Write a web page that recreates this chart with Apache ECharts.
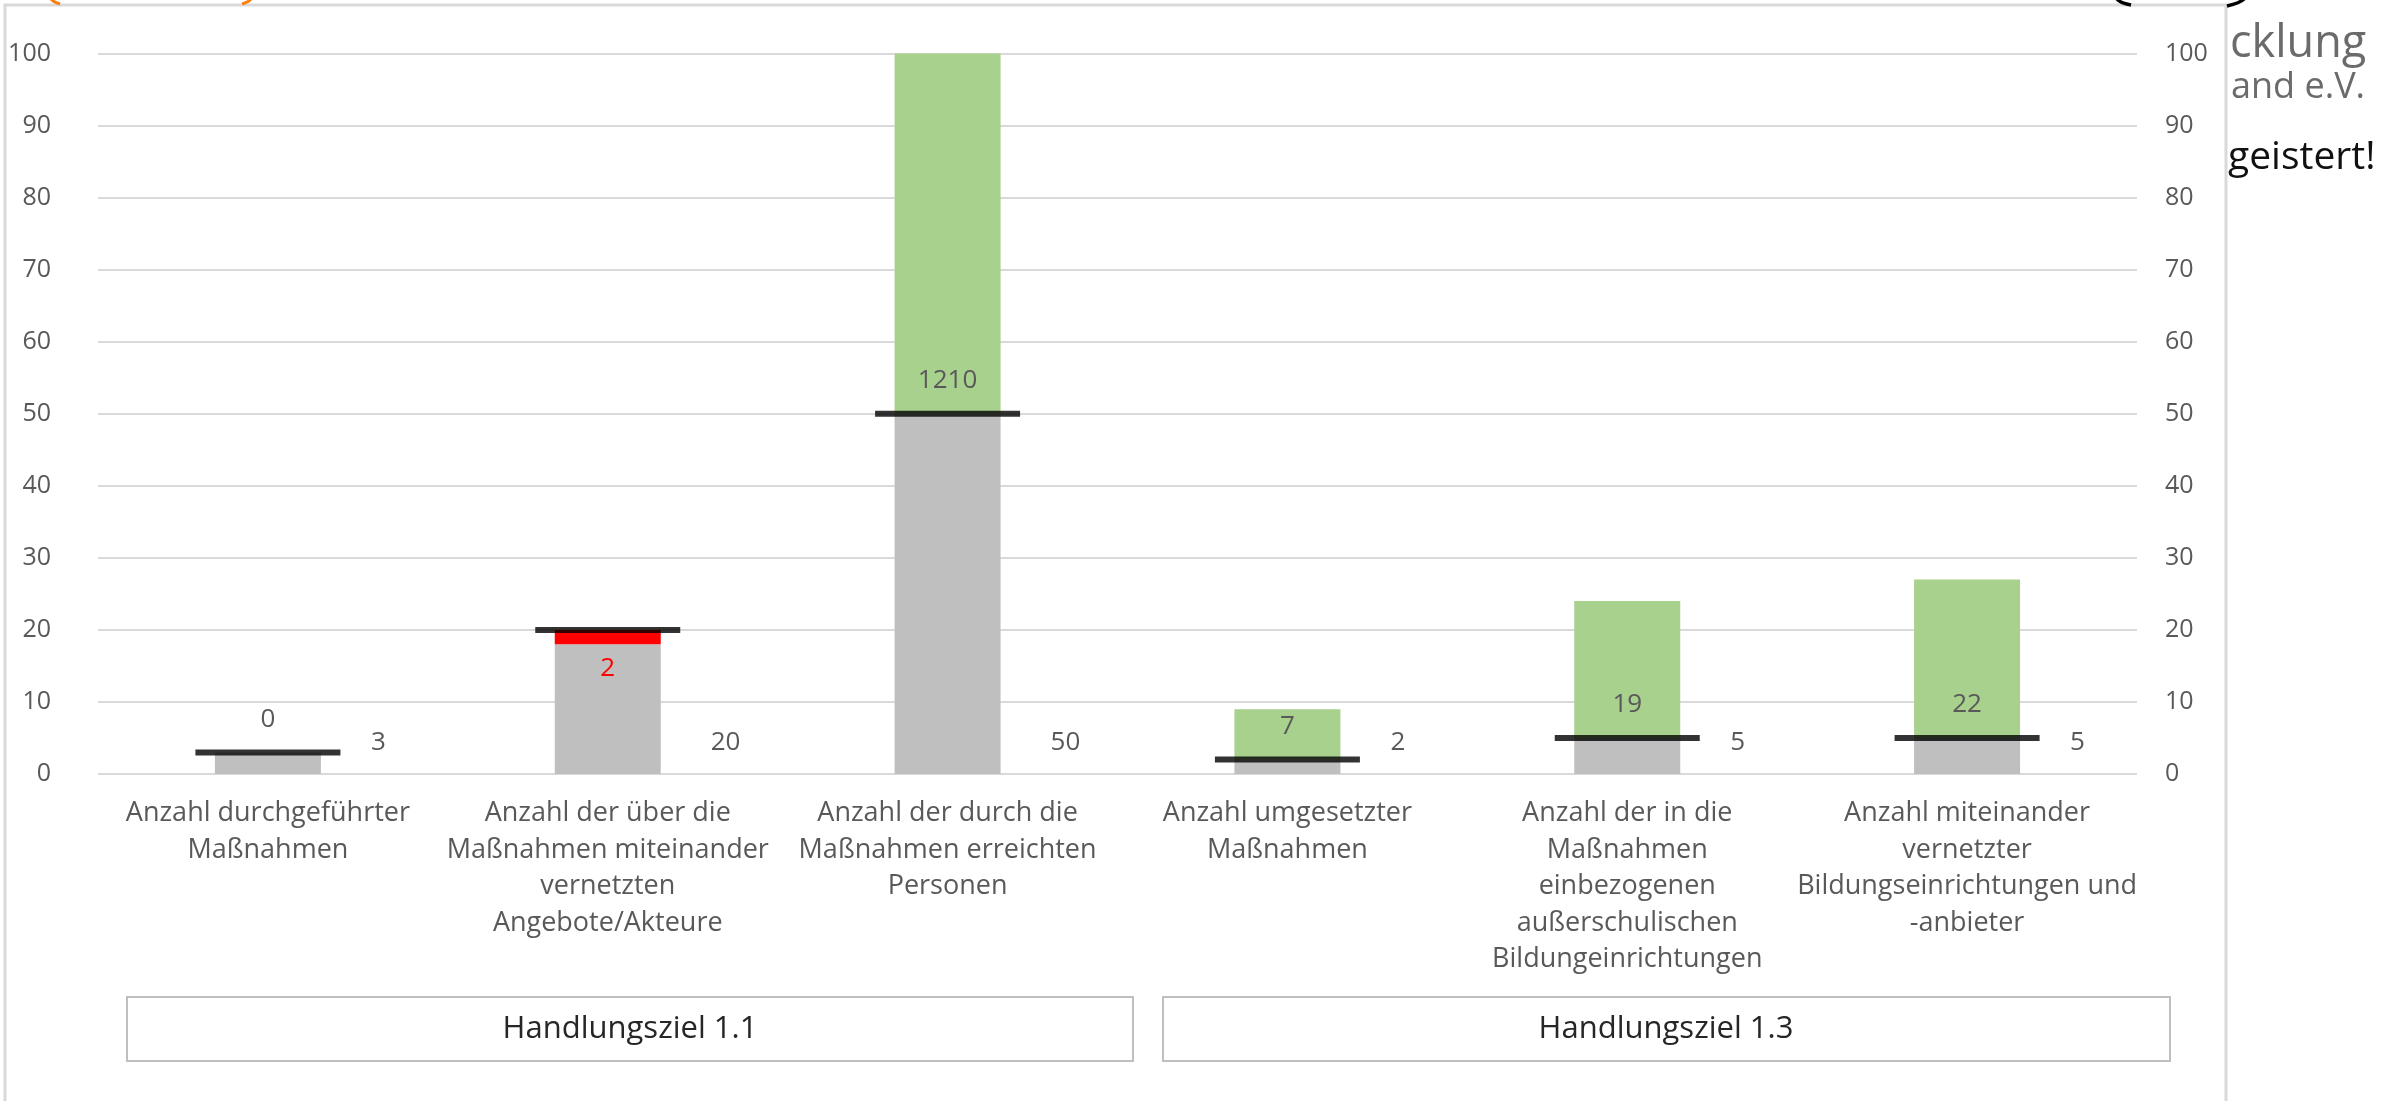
<!DOCTYPE html>
<html>
<head>
<meta charset="utf-8">
<script src="https://cdn.jsdelivr.net/npm/echarts@6/dist/echarts.min.js"></script>
<style>
html,body{margin:0;padding:0;background:#fff;}
#c{width:2394px;height:1101px;}
</style>
</head>
<body>
<div id="c"></div>
<script>
// ---- data ----
const categories = [
  'Anzahl durchgeführter\nMaßnahmen',
  'Anzahl der über die\nMaßnahmen miteinander\nvernetzten\nAngebote/Akteure',
  'Anzahl der durch die\nMaßnahmen erreichten\nPersonen',
  'Anzahl umgesetzter\nMaßnahmen',
  'Anzahl der in die\nMaßnahmen\neinbezogenen\naußerschulischen\nBildungeinrichtungen',
  'Anzahl miteinander\nvernetzter\nBildungseinrichtungen und\n-anbieter'
];
const targets   = [3, 20, 50, 2, 5, 5];               // black marker + right-hand label
const baseVals  = [3, 18, 50, 2, 5, 5];               // grey part
const shortfall = [null, 2, null, null, null, null];  // red part
const excess    = [0, null, 1210, 7, 19, 22];         // green part (label value)
const axisMin = 0, axisMax = 100, axisStep = 10;
const groupNames = ['Handlungsziel 1.1', 'Handlungsziel 1.3'];
const sideTexts = ['cklung', 'and e.V.', 'geistert!'];

// green drawn capped at the axis maximum
const greenVals = excess.map((v, i) => v == null ? null : Math.min(v, axisMax - baseVals[i]));

const FONT = 'Open Sans';
const grey = '#595959';

const chart = echarts.init(document.getElementById('c'), null, {renderer: 'canvas'});

const yAxisCommon = {
  type: 'value', min: axisMin, max: axisMax, interval: axisStep,
  axisLine: {show: false}, axisTick: {show: false},
  splitLine: {show: true, lineStyle: {color: '#d9d9d9', width: 2}},
  axisLabel: {color: grey, fontFamily: FONT, fontSize: 25}
};

chart.setOption({
  animation: false,
  backgroundColor: '#ffffff',
  grid: {left: 98, right: 257, top: 53.4, bottom: 327, containLabel: false},
  xAxis: {
    type: 'category', data: categories,
    axisLine: {show: false}, axisTick: {show: false},
    axisLabel: {interval: 0, color: grey, fontFamily: FONT, fontSize: 27, lineHeight: 36.6,
      margin: 21, align: 'center', verticalAlign: 'top'}
  },
  yAxis: [
    Object.assign({}, yAxisCommon, {position: 'left', axisLabel: Object.assign({}, yAxisCommon.axisLabel, {margin: 47})}),
    Object.assign({}, yAxisCommon, {position: 'right', splitLine: {show: false}, axisLabel: Object.assign({}, yAxisCommon.axisLabel, {margin: 28})})
  ],
  series: [
    {
      name: 'Basis', type: 'bar', stack: 'a', data: baseVals, barWidth: 106,
      itemStyle: {color: '#bfbfbf'},
      label: {show: true, position: 'insideBottom', distance: 18, align: 'left', offset: [103, 0],
        color: grey, fontFamily: FONT, fontSize: 26,
        formatter: p => String(targets[p.dataIndex])}
    },
    {
      name: 'Fehlend', type: 'bar', stack: 'a', data: shortfall, barWidth: 106,
      itemStyle: {color: '#ff0000'},
      label: {show: true, position: 'bottom', distance: 11, color: '#ff0000', fontFamily: FONT, fontSize: 26}
    },
    {
      name: 'Mehr', type: 'bar', stack: 'a', data: greenVals, barWidth: 106,
      itemStyle: {color: '#a9d18e'},
      label: {show: true, position: 'insideBottom', distance: 20, color: grey, fontFamily: FONT, fontSize: 26,
        formatter: p => String(excess[p.dataIndex])}
    },
    {
      name: 'Ziel', type: 'scatter', data: targets, symbol: 'rect', symbolSize: [145, 6],
      itemStyle: {color: '#000000'}, z: 5, silent: true
    }
  ],
  graphic: {elements: [
    {type: 'rect', z: -10, shape: {x: 5, y: 5, width: 2221, height: 1200},
      style: {fill: '#ffffff', stroke: '#d9d9d9', lineWidth: 3}},
    {type: 'rect', shape: {x: 127, y: 997, width: 1006, height: 64}, style: {fill: '#ffffff', stroke: '#bfbfbf', lineWidth: 2}},
    {type: 'text', x: 630, y: 1029, style: {text: groupNames[0], fill: '#262626', font: '31px "Open Sans"', align: 'center', verticalAlign: 'middle'}},
    {type: 'rect', shape: {x: 1163, y: 997, width: 1007, height: 64}, style: {fill: '#ffffff', stroke: '#bfbfbf', lineWidth: 2}},
    {type: 'text', x: 1666, y: 1029, style: {text: groupNames[1], fill: '#262626', font: '31px "Open Sans"', align: 'center', verticalAlign: 'middle'}},
    {type: 'text', x: 2230, y: 44, style: {text: sideTexts[0], fill: '#6b6b6b', font: '45px "Open Sans"', verticalAlign: 'middle'}},
    {type: 'text', x: 2231, y: 88, style: {text: sideTexts[1], fill: '#6b6b6b', font: '36px "Open Sans"', verticalAlign: 'middle'}},
    {type: 'text', x: 2228, y: 158, style: {text: sideTexts[2], fill: '#111111', font: '39px "Open Sans"', verticalAlign: 'middle'}},
    // bottoms of bracket glyphs peeking in at the top edge
    {type: 'bezierCurve', shape: {x1: 51, y1: -1, cpx1: 53, cpy1: 2, x2: 60, y2: 4}, style: {stroke: '#ff7f0e', lineWidth: 3, fill: null}},
    {type: 'bezierCurve', shape: {x1: 251, y1: -1, cpx1: 249, cpy1: 2, x2: 242, y2: 4}, style: {stroke: '#ff7f0e', lineWidth: 3, fill: null}},
    {type: 'bezierCurve', shape: {x1: 2117, y1: -1, cpx1: 2120, cpy1: 3, x2: 2131, y2: 5}, style: {stroke: '#000000', lineWidth: 3.5, fill: null}},
    {type: 'bezierCurve', shape: {x1: 2244, y1: -1, cpx1: 2240, cpy1: 3, x2: 2227, y2: 6}, style: {stroke: '#000000', lineWidth: 3.5, fill: null}}
  ]}
});
</script>
</body>
</html>
